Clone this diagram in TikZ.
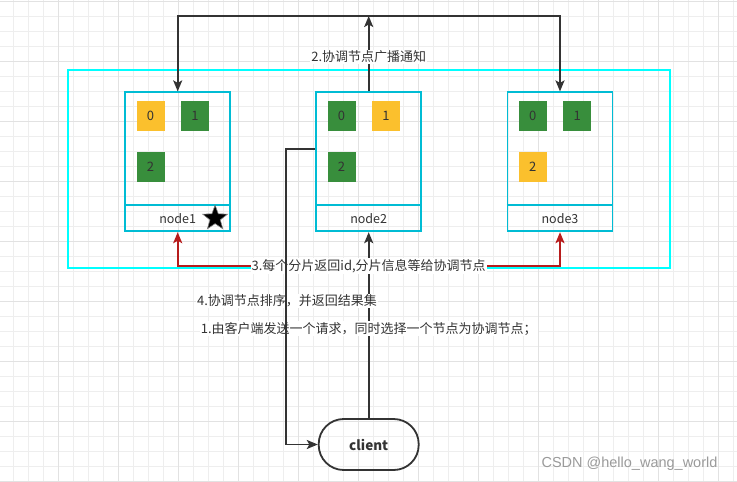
\documentclass[tikz,border=0pt]{standalone}
\usepackage{fontspec}
\setmainfont{Noto Sans CJK SC}
\newfontfamily\wmfont{Liberation Sans}
\usepackage{tikz}
\usetikzlibrary{positioning,arrows.meta,shapes.geometric}

\definecolor{linegray}{HTML}{333333}
\definecolor{boxcyan}{HTML}{00BCD4}
\definecolor{outercyan}{HTML}{00FFFF}
\definecolor{shardyellow}{HTML}{FBC02D}
\definecolor{shardgreen}{HTML}{388E3C}
\definecolor{retred}{HTML}{B71C1C}
\definecolor{gridminor}{HTML}{EEEEEE}
\definecolor{gridmajor}{HTML}{E2E2E2}
\definecolor{wmgray}{HTML}{9A9A9A}

\begin{document}
\begin{tikzpicture}[
                    x=1pt, y=-1pt,
                    arr/.style={-{Stealth[length=11pt,width=9pt,inset=2.5pt]}, draw=linegray, line width=1.8pt},
                    redarr/.style={arr, draw=retred},
                    lbl/.style={fill=white, inner sep=1pt, text=linegray, font=\fontsize{13}{15}\selectfont},
                    nodebox/.style={draw=boxcyan, line width=1.8pt, minimum width=105pt, minimum height=139pt, inner sep=0pt},
                    boxline/.style={draw=boxcyan, line width=1.8pt},
                    shard/.style={minimum width=28pt, minimum height=30pt, inner sep=0pt, text=linegray, font=\fontsize{13}{15}\selectfont},
                    namelbl/.style={text=linegray, font=\fontsize{12.5}{14}\selectfont},
                    starmark/.style={star, star points=5, star point ratio=2.4, minimum size=26pt, inner sep=0pt, fill=black, draw=gray, line width=0.6pt},
                    client/.style={draw=linegray, line width=1.8pt, rounded corners=25pt, minimum width=100pt, minimum height=51pt, text=linegray, font=\bfseries\fontsize{13.5}{15}\selectfont}
                ]
                \useasboundingbox (0,0) rectangle (737,482);
                \fill[white] (0,0) rectangle (737,482);
                \begin{scope}[shift={(13.3,1.3)}]
                    \draw[gridminor, line width=0.8pt, xstep=15pt, ystep=15pt] (-13.3,-1.3) grid (723.7,480.7);
                \end{scope}
                \begin{scope}[shift={(58.3,1.3)}]
                    \draw[gridmajor, line width=0.8pt, xstep=60pt, ystep=60pt] (-58.3,-1.3) grid (678.7,480.7);
                \end{scope}

                \draw[outercyan, line width=1.8pt] (68,70) rectangle (670,268);

                \node[nodebox] (n1) at (177.7,161.8) {};
                \node[nodebox] (n2) at (368.7,161.8) {};
                \node[nodebox] (n3) at (560,161.8) {};
                \draw[boxline] ([yshift=27.6pt]n1.south west) -- ([yshift=27.6pt]n1.south east);
                \draw[boxline] ([yshift=27.6pt]n2.south west) -- ([yshift=27.6pt]n2.south east);
                \draw[boxline] ([yshift=27.6pt]n3.south west) -- ([yshift=27.6pt]n3.south east);
                \node[namelbl] (n1name) at ([yshift=13.8pt]n1.south) {node1};
                \node[namelbl] (n2name) at ([yshift=13.8pt]n2.south) {node2};
                \node[namelbl] (n3name) at ([yshift=13.8pt]n3.south) {node3};
                \node[starmark] (n1star) at ([xshift=-16pt, yshift=14pt]n1.south east) {};

                \node[shard, fill=shardyellow, below right=9.5pt and 12pt of n1.north west] (n1s0) {0};
                \node[shard, fill=shardgreen, right=16pt of n1s0] (n1s1) {1};
                \node[shard, fill=shardgreen, below=20pt of n1s0] (n1s2) {2};
                \node[shard, fill=shardgreen, below right=9.5pt and 12pt of n2.north west] (n2s0) {0};
                \node[shard, fill=shardyellow, right=16pt of n2s0] (n2s1) {1};
                \node[shard, fill=shardgreen, below=20pt of n2s0] (n2s2) {2};
                \node[shard, fill=shardgreen, below right=9.5pt and 12pt of n3.north west] (n3s0) {0};
                \node[shard, fill=shardgreen, right=16pt of n3s0] (n3s1) {1};
                \node[shard, fill=shardyellow, below=20pt of n3s0] (n3s2) {2};

                \node[client] (client) at (368.7,444.5) {client};

                \coordinate (tmid) at (368.7,16);
                \draw[arr] (n2.north) -- node[lbl, pos=0.46] (lbl2) {2.协调节点广播通知} (tmid);
                \draw[arr] (tmid) -| (n1.north);
                \draw[arr] (tmid) -| (n3.north);

                \coordinate (rmid) at (368.7,266);
                \draw[redarr] (rmid) -| (n1.south);
                \draw[redarr] (rmid) -| (n3.south);

                \draw[arr] (client.north) -- node[lbl, pos=0.48] (lbl1) {1.由客户端发送一个请求，同时选择一个节点为协调节点；} (n2.south);
                \node[lbl] (lbl3) at (rmid) {3.每个分片返回id,分片信息等给协调节点};
                \node[lbl] (lbl4) at (287,301) {4.协调节点排序，并返回结果集};

                \coordinate (lbend) at (286,149);
                \draw[arr] ([yshift=12.8pt]n2.west) -- (lbend) |- (client.west);

                \node[text=wmgray, font=\wmfont\fontsize{14.5}{16}\selectfont] (wm) at (629.5,464) {CSDN @hello\_wang\_world};
            \end{tikzpicture}
\end{document}
